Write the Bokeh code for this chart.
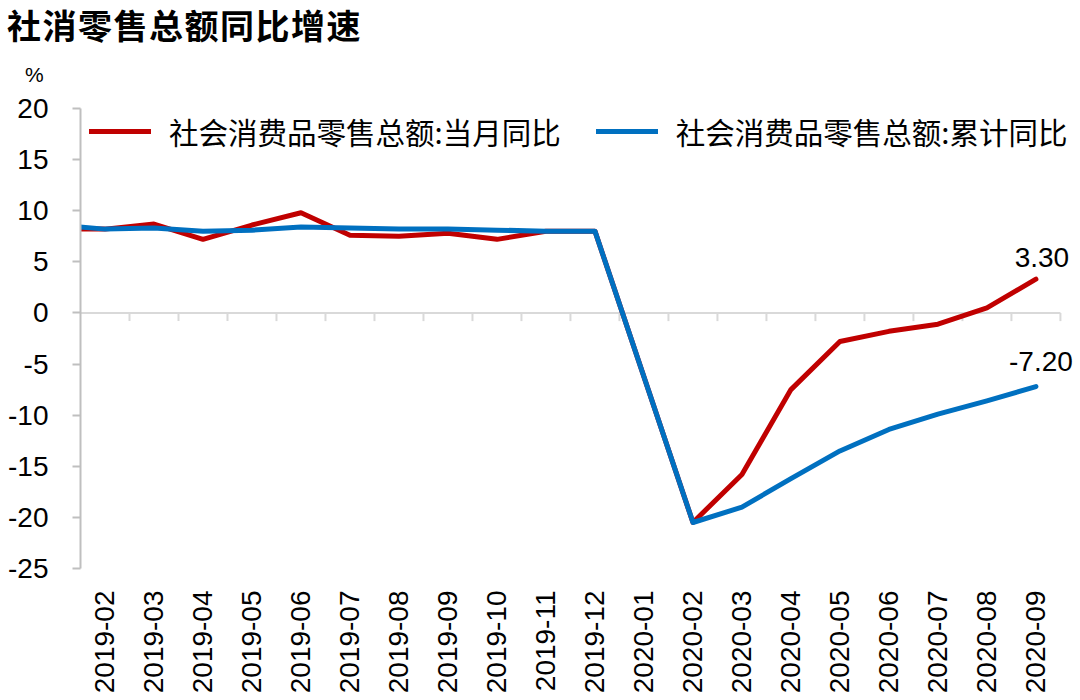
import math
from bokeh.plotting import figure
from bokeh.layouts import column
from bokeh.models import (Range1d, FixedTicker, Legend, LegendItem, Label, Div,
                          ColumnDataSource)
from bokeh.embed import file_html
from bokeh.resources import INLINE

# ---------------- data ----------------
title_text = "社消零售总额同比增速"
unit_text = "%"
series_names = ["社会消费品零售总额:当月同比", "社会消费品零售总额:累计同比"]
# first slot (2019-01) is the hidden lead-in point left of the visible axis
months = ["2019-01", "2019-02", "2019-03", "2019-04", "2019-05", "2019-06", "2019-07",
          "2019-08", "2019-09", "2019-10", "2019-11", "2019-12", "2020-01", "2020-02",
          "2020-03", "2020-04", "2020-05", "2020-06", "2020-07", "2020-08", "2020-09"]
monthly_yoy = [8.2, 8.2, 8.7, 7.2, 8.6, 9.8, 7.6, 7.5, 7.8, 7.2, 8.0, 8.0, None,
               -20.5, -15.8, -7.5, -2.8, -1.8, -1.1, 0.5, 3.3]
cumulative_yoy = [8.6, 8.2, 8.3, 8.0, 8.1, 8.4, 8.3, 8.2, 8.2, 8.1, 8.0, 8.0, None,
                  -20.5, -19.0, -16.2, -13.5, -11.4, -9.9, -8.6, -7.2]
y_ticks = [-25, -20, -15, -10, -5, 0, 5, 10, 15, 20]
y_tick_labels = ["-25", "-20", "-15", "-10", "-5", "0", "5", "10", "15", "20"]

RED = "#C00000"
BLUE = "#0070C0"
GREY = "#BFBFBF"
ZERO_GREY = "#D9D9D9"
NUM_FONT = "Liberation Sans"
CJK_FONT = "Noto Sans CJK SC"

n = len(months)
x_start = 0.5
x_last_edge = n - 0.5
x_end = x_last_edge + 0.41          # room on the right for the end labels
y_start, y_end = y_ticks[0], y_ticks[-1]

# ---------------- header (title + unit) ----------------
header = Div(
    text=(
        '<div style="position:relative;width:1080px;height:90px;">'
        f'<div style="position:absolute;left:7px;top:0px;font-family:\'{CJK_FONT}\';'
        'font-weight:bold;font-size:34px;line-height:50px;letter-spacing:1.5px;'
        f'color:black;white-space:nowrap;">{title_text}</div>'
        f'<div style="position:absolute;left:25px;top:62px;font-family:\'{NUM_FONT}\';'
        f'font-size:21px;line-height:25px;color:black;">{unit_text}</div>'
        '</div>'
    ),
    width=1080, height=90, margin=(0, 0, 0, 0))

# ---------------- chart ----------------
p = figure(width=1080, height=610, output_backend="svg", toolbar_location=None,
           x_range=Range1d(x_start, x_end), y_range=Range1d(y_start, y_end),
           min_border_left=80, min_border_right=0, min_border_top=18,
           min_border_bottom=132, margin=(0, 0, 0, 0))
p.outline_line_color = None
p.xgrid.visible = False
p.ygrid.visible = False
p.background_fill_color = "white"
p.border_fill_color = "white"

# y axis
ya = p.yaxis[0]
ya.ticker = FixedTicker(ticks=y_ticks)
ya.major_label_overrides = dict(zip(y_ticks, y_tick_labels))
ya.axis_line_color = GREY
ya.axis_line_width = 2
ya.major_tick_line_color = GREY
ya.major_tick_line_width = 2
ya.major_tick_out = 8
ya.major_tick_in = 0
ya.minor_tick_line_color = None
ya.major_label_standoff = 24
ya.major_label_text_font = NUM_FONT
ya.major_label_text_font_size = "28px"
ya.major_label_text_color = "black"

# x axis (labels only, at bottom)
xa = p.xaxis[0]
tick_pos = list(range(1, n))
xa.ticker = FixedTicker(ticks=tick_pos)
xa.major_label_overrides = {i: months[i] for i in tick_pos}
xa.major_label_orientation = math.pi / 2
xa.axis_line_color = None
xa.major_tick_line_color = None
xa.major_tick_out = 0
xa.major_tick_in = 0
xa.minor_tick_line_color = None
xa.major_label_standoff = 22
xa.major_label_text_font = NUM_FONT
xa.major_label_text_font_size = "28px"
xa.major_label_text_color = "black"

# zero line with category-boundary ticks
p.segment(x0=[x_start], y0=[0], x1=[x_last_edge], y1=[0],
          line_color=ZERO_GREY, line_width=2, level="underlay")
bounds = [i + 0.5 for i in range(1, n)]
p.segment(x0=bounds, y0=[0] * len(bounds), x1=bounds, y1=[-0.8] * len(bounds),
          line_color=ZERO_GREY, line_width=2, level="underlay")

def pts(vals):
    xs = [i for i, v in enumerate(vals) if v is not None]
    ys = [v for v in vals if v is not None]
    return ColumnDataSource(dict(x=xs, y=ys))

r1 = p.line("x", "y", source=pts(monthly_yoy), line_color=RED, line_width=5,
            line_join="round", line_cap="round")
r2 = p.line("x", "y", source=pts(cumulative_yoy), line_color=BLUE, line_width=5,
            line_join="round", line_cap="round")

legend = Legend(items=[LegendItem(label=series_names[0], renderers=[r1]),
                       LegendItem(label=series_names[1], renderers=[r2])],
                orientation="horizontal", location=(9, 416),
                border_line_color=None, background_fill_alpha=0,
                glyph_width=62, label_standoff=18, spacing=35,
                margin=0, padding=0,
                label_text_font=CJK_FONT, label_text_font_size="29.5px",
                label_text_color="black")
p.add_layout(legend)

# end-value labels
last = n - 1
p.add_layout(Label(x=last, y=monthly_yoy[-1], text=f"{monthly_yoy[-1]:.2f}",
                   text_align="center", text_baseline="alphabetic",
                   x_offset=6, y_offset=22, text_font=NUM_FONT,
                   text_font_size="28px", text_color="black"))
p.add_layout(Label(x=last, y=cumulative_yoy[-1], text=f"{cumulative_yoy[-1]:.2f}",
                   text_align="center", text_baseline="alphabetic",
                   x_offset=5, y_offset=25, text_font=NUM_FONT,
                   text_font_size="28px", text_color="black"))

layout = column(header, p, spacing=0)
open("out.html", "w").write(file_html(layout, INLINE))
